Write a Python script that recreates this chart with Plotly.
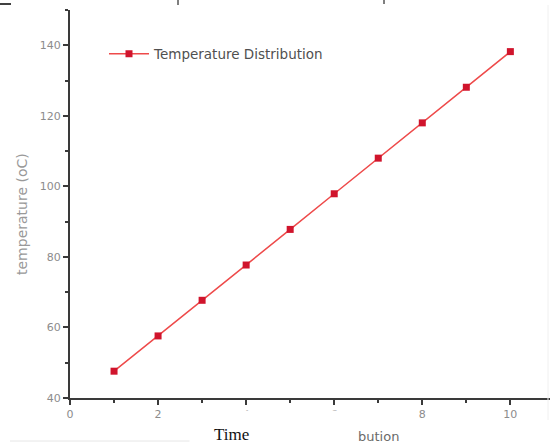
import plotly.graph_objects as go

# Temperature readings over time
time_steps = [1, 2, 3, 4, 5, 6, 7, 8, 9, 10]
temperature = [47.6, 57.6, 67.7, 77.7, 87.8, 97.9, 108.0, 118.0, 128.1, 138.2]

x_tick_vals = [0, 2, 4, 6, 8, 10]
x_tick_text = ["0", "2", "4", "6", "8", "10"]
y_tick_vals = [40, 60, 80, 100, 120, 140]
y_tick_text = ["40", "60", "80", "100", "120", "140"]

axis_color = "#3a3a3a"
label_color = "#8c8c8c"
sans = "DejaVu Sans, Liberation Sans, Arial, sans-serif"

# plot area in pixels: left 70, right 550, top 10, bottom 398
PX_L, PX_W, PX_B, PX_H = 70, 480, 398, 388


def px(xp):
    return (xp - PX_L) / PX_W


def py(yp):
    return (PX_B - yp) / PX_H


fig = go.Figure()
fig.add_trace(go.Scatter(
    x=time_steps, y=temperature,
    mode="lines+markers",
    name="Temperature Distribution",
    line=dict(color="#ee4a4a", width=1.5),
    marker=dict(symbol="square", size=7, color="#d0142c"),
))

fig.update_layout(
    width=556, height=444,
    margin=dict(l=70, r=6, t=10, b=46),
    paper_bgcolor="white", plot_bgcolor="white",
    font=dict(family=sans, color=label_color, size=11),
    showlegend=True,
    legend=dict(
        x=px(104), y=py(54), xanchor="left", yanchor="middle",
        bgcolor="rgba(0,0,0,0)", itemwidth=40,
        font=dict(family=sans, size=13.5, color="#505050"),
    ),
    xaxis=dict(
        range=[0, 10.9], showgrid=False, zeroline=False,
        showline=True, linecolor=axis_color, linewidth=2,
        tickmode="array", tickvals=x_tick_vals, ticktext=x_tick_text,
        ticks="outside", ticklen=5, tickwidth=1.5, tickcolor=axis_color,
        minor=dict(dtick=1, tick0=0, ticks="outside", ticklen=3, tickcolor=axis_color),
        tickfont=dict(family=sans, size=11, color=label_color),
    ),
    yaxis=dict(
        range=[40, 150], showgrid=False, zeroline=False,
        showline=True, linecolor=axis_color, linewidth=2,
        tickmode="array", tickvals=y_tick_vals, ticktext=y_tick_text,
        ticks="outside", ticklen=5, tickwidth=1.5, tickcolor=axis_color,
        minor=dict(dtick=10, tick0=40, ticks="outside", ticklen=3, tickcolor=axis_color),
        tickfont=dict(family=sans, size=11, color=label_color),
    ),
)

# y-axis title
fig.add_annotation(
    text="temperature (oC)", xref="paper", yref="paper",
    x=px(22), y=py(214), xanchor="center", yanchor="middle",
    textangle=-90, showarrow=False,
    font=dict(family=sans, size=14, color="#999999"),
)

# white strip under the axis where the caption sits
fig.add_annotation(
    text=" ", xref="paper", yref="paper",
    x=px(295), y=py(427.5), xanchor="center", yanchor="middle",
    width=210, height=33, borderpad=0, bgcolor="white",
    showarrow=False,
)

# Caption text below the axis
fig.add_annotation(
    text="Time", xref="paper", yref="paper",
    x=px(231), y=py(434), xanchor="center", yanchor="middle",
    showarrow=False,
    font=dict(family="Liberation Serif, Times New Roman, serif", size=17, color="#111111"),
)
fig.add_annotation(
    text="bution", xref="paper", yref="paper",
    x=px(378), y=py(436), xanchor="center", yanchor="middle",
    showarrow=False,
    font=dict(family=sans, size=13, color="#6a6a6a"),
)

# Small page marks along the edges
page_marks = [
    dict(x0=0, x1=11, y0=4, y1=4, color="#000000", width=1.5),
    dict(x0=178, x1=178, y0=0, y1=5, color="#000000", width=1),
    dict(x0=384, x1=384, y0=0, y1=4, color="#000000", width=1),
    dict(x0=10, x1=190, y0=441, y1=441, color="#e6e6e6", width=1),
    dict(x0=548, x1=548, y0=5, y1=420, color="#f0f0f0", width=1),
]
for m in page_marks:
    fig.add_shape(
        type="line", xref="paper", yref="paper",
        x0=px(m["x0"]), x1=px(m["x1"]),
        y0=py(m["y0"]), y1=py(m["y1"]),
        line=dict(color=m["color"], width=m["width"]),
    )

fig.write_html("out.html")
